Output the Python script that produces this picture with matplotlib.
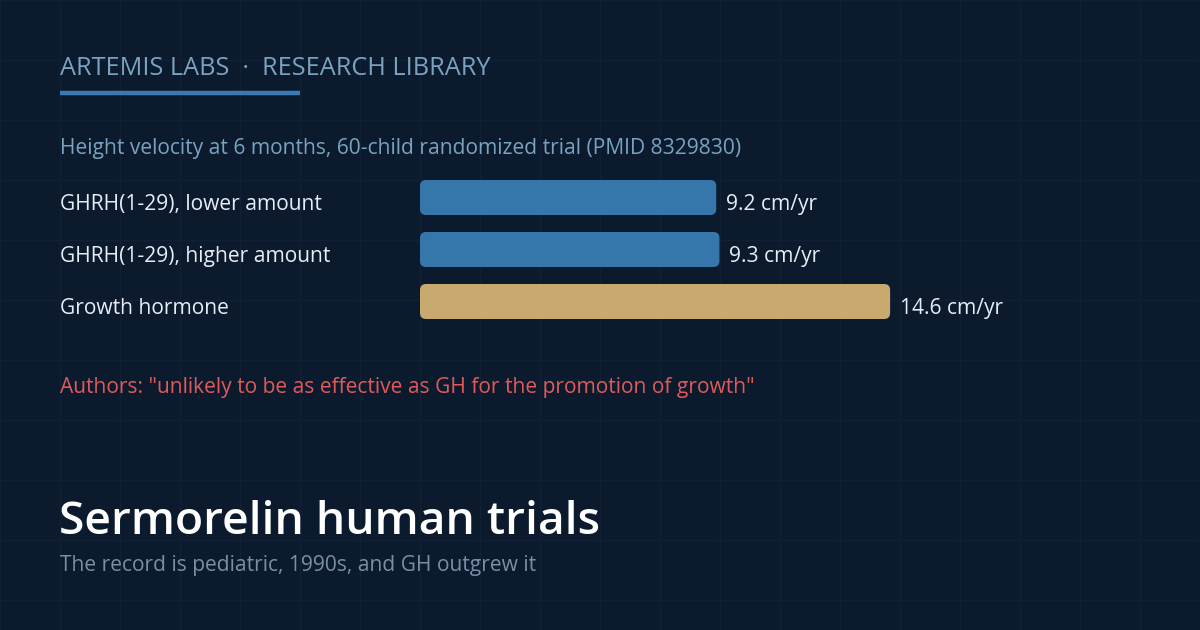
import matplotlib
matplotlib.use("Agg")
import matplotlib.pyplot as plt
from matplotlib.patches import FancyBboxPatch

# data
categories = ["GHRH(1-29), lower amount", "GHRH(1-29), higher amount", "Growth hormone"]
values = [9.2, 9.3, 14.6]
value_labels = ["9.2 cm/yr", "9.3 cm/yr", "14.6 cm/yr"]
bar_colors = ["#3577aa", "#3577aa", "#c8a96e"]

header = "ARTEMIS LABS  ·  RESEARCH LIBRARY"
chart_note = "Height velocity at 6 months, 60-child randomized trial (PMID 8329830)"
quote = 'Authors: "unlikely to be as effective as GH for the promotion of growth"'
title = "Sermorelin human trials"
subtitle = "The record is pediatric, 1990s, and GH outgrew it"

BG = "#0c1a2e"
GRID = "#112034"
W, H = 1200, 630
plt.rcParams['font.family'] = ['Open Sans', 'DejaVu Sans']

def px(v):
    # pixel size -> points at dpi 100
    return v * 0.72

fig = plt.figure(figsize=(W / 100, H / 100), dpi=100, facecolor=BG)

# background canvas in pixel coords
bg = fig.add_axes([0, 0, 1, 1])
bg.set_xlim(0, W)
bg.set_ylim(H, 0)
bg.set_facecolor(BG)
bg.axis("off")
for gx in range(0, W + 1, 60):
    bg.axvline(gx, color=GRID, lw=1, zorder=0)
for gy in range(0, H + 1, 60):
    bg.axhline(gy, color=GRID, lw=1, zorder=0)

body = px(21)
bg.text(60, 75, header, color="#7aa3bf", fontsize=px(25.2), va="baseline", ha="left")
bg.plot([60, 300], [93, 93], color="#3a7ab5", lw=3.2, solid_capstyle="butt")
bg.text(60, 154, chart_note, color="#7aa3bf", fontsize=body, va="baseline")
for i, c in enumerate(categories):
    bg.text(60, 210 + 52 * i, c, color="#e6edf5", fontsize=body, va="baseline")
bg.text(60, 393, quote, color="#e05a5a", fontsize=body, va="baseline")
bg.text(59, 534, title, color="#ffffff", fontsize=px(46.3), fontweight="semibold", va="baseline")
bg.text(60, 571, subtitle, color="#7b8ea5", fontsize=body, va="baseline")

# bar axes: x from 420px, 32.2 px per unit
x0, scale = 420, 32.2
xmax = 20
ax_w = scale * xmax
ax_top, ax_bot = 171.5, 327.5
ax = fig.add_axes([x0 / W, 1 - ax_bot / H, ax_w / W, (ax_bot - ax_top) / H])
ax.set_xlim(0, xmax)
ax.set_ylim(len(values) - 0.5, -0.5)
ax.axis("off")
bars = ax.barh(range(len(values)), values, height=35 / 52, color=bar_colors)

ux = scale          # px per x unit
uy = 52.0           # px per y unit
r = 6.0
for b, col in zip(bars, bar_colors):
    x, y, w, h = b.get_x(), b.get_y(), b.get_width(), b.get_height()
    b.remove()
    p = FancyBboxPatch((x, y), w, h,
                       boxstyle="round,pad=0,rounding_size=%f" % (r / ux),
                       mutation_aspect=ux / uy,
                       facecolor=col, edgecolor="none")
    ax.add_patch(p)

for i, (v, lab) in enumerate(zip(values, value_labels)):
    # baseline 12.5px below the bar centre
    ax.text(v + 10 / scale, i + 12.5 / uy, lab, color="#e6edf5", fontsize=body,
            va="baseline", ha="left")

fig.savefig("out.png", dpi=100, facecolor=BG)
